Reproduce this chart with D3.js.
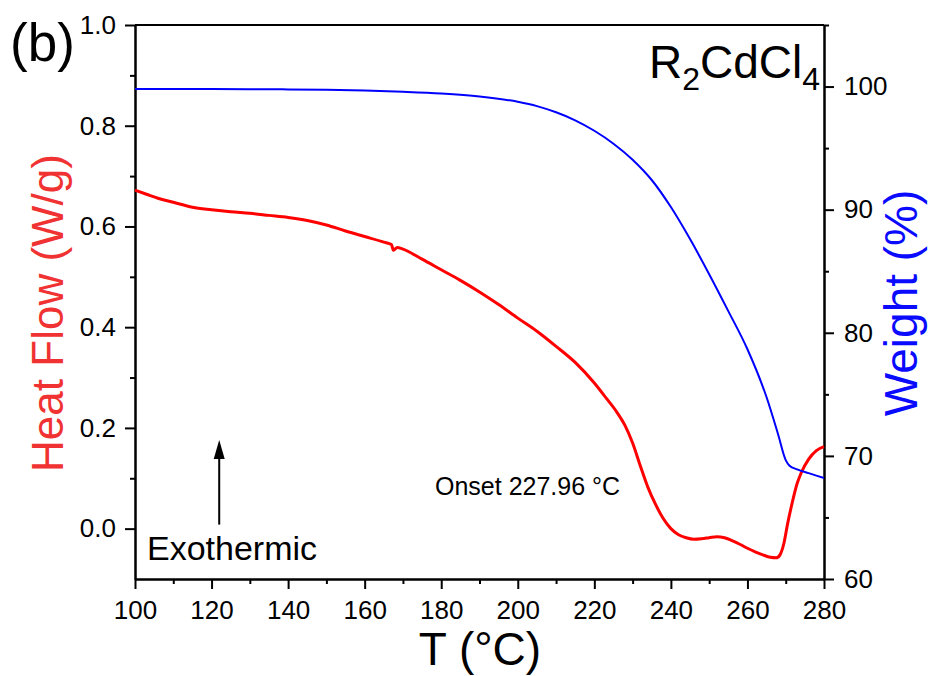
<!DOCTYPE html>
<html>
<head>
<meta charset="utf-8">
<script src="https://cdn.jsdelivr.net/npm/d3@7"></script>
<style>
  body { margin: 0; background: #fff; }
  svg { font-family: "Liberation Sans", Arial, sans-serif; }
  .axis path, .axis line { stroke: #000; stroke-width: 2; }
  .axis text { font-size: 26px; fill: #000; }
</style>
</head>
<body>
<svg id="chart" width="932" height="676"></svg>
<script>
// temperature (°C) and heat flow (W/g) of the DSC trace
const hfTemp = [100, 103, 106, 110, 115, 120, 125, 130, 135, 140, 145, 150, 155, 160, 165, 167,
  167.5, 168.5, 170, 175, 180, 185, 190, 195, 200, 205, 210, 215, 220, 223, 226, 228, 230, 232,
  234, 236, 238, 240, 242, 244, 246, 248, 250, 252, 254, 256, 258, 260, 262, 264, 266, 267.5,
  268.5, 269.5, 270.5, 271.5, 273, 274, 276, 278, 280];
const heatFlow = [0.672, 0.664, 0.656, 0.648, 0.638, 0.633, 0.629, 0.626, 0.622, 0.618, 0.612,
  0.603, 0.591, 0.580, 0.569, 0.564, 0.553, 0.558, 0.555, 0.535, 0.514, 0.493, 0.470, 0.445,
  0.418, 0.392, 0.362, 0.330, 0.289, 0.260, 0.230, 0.205, 0.170, 0.125, 0.082, 0.048, 0.020,
  0.000, -0.012, -0.018, -0.021, -0.020, -0.018, -0.016, -0.018, -0.024, -0.031, -0.039,
  -0.046, -0.052, -0.057, -0.058, -0.052, -0.030, 0.010, 0.045, 0.090, 0.110, 0.138, 0.155, 0.163];

// temperature (°C) and weight (%) of the TGA trace
const wTemp = [100, 110, 120, 130, 140, 150, 160, 170, 180, 190, 200, 205, 210, 215, 220, 225,
  230, 235, 240, 245, 250, 255, 260, 265, 268, 270, 271, 273, 276, 280];
const weight = [99.80, 99.80, 99.80, 99.79, 99.77, 99.74, 99.68, 99.58, 99.44, 99.20, 98.76,
  98.41, 97.91, 97.26, 96.41, 95.36, 94.06, 92.41, 90.21, 87.61, 84.76, 81.76, 78.66, 74.76,
  71.76, 69.66, 69.20, 68.90, 68.60, 68.20];

const xTicks = [100, 120, 140, 160, 180, 200, 220, 240, 260, 280];
const hfTicks = [0.0, 0.2, 0.4, 0.6, 0.8, 1.0];
const wTicks = [60, 70, 80, 90, 100];

const svg = d3.select("#chart");
const plotLeft = 135, plotRight = 824, plotTop = 25, plotBottom = 579;

const x = d3.scaleLinear().domain([100, 280]).range([plotLeft, plotRight]);
const yHF = d3.scaleLinear().domain([-0.1, 1.0]).range([plotBottom, plotTop]);
const yW = d3.scaleLinear().domain([60, 105]).range([plotBottom, plotTop]);

// top frame line
svg.append("line")
  .attr("x1", plotLeft).attr("x2", plotRight).attr("y1", plotTop).attr("y2", plotTop)
  .attr("stroke", "#000").attr("stroke-width", 2);

// minor ticks
svg.append("g").attr("class", "axis").attr("transform", `translate(0,${plotBottom})`)
  .call(d3.axisBottom(x).tickValues(d3.range(110, 280, 20)).tickSize(5).tickSizeOuter(0).tickFormat(""));
svg.append("g").attr("class", "axis").attr("transform", `translate(${plotLeft},0)`)
  .call(d3.axisLeft(yHF).tickValues([0.1, 0.3, 0.5, 0.7, 0.9]).tickSize(5).tickSizeOuter(0).tickFormat(""));
svg.append("g").attr("class", "axis").attr("transform", `translate(${plotRight},0)`)
  .call(d3.axisRight(yW).tickValues([65, 75, 85, 95, 105]).tickSize(5).tickSizeOuter(0).tickFormat(""));

// major axes
svg.append("g").attr("class", "axis").attr("transform", `translate(0,${plotBottom})`)
  .call(d3.axisBottom(x).tickValues(xTicks).tickSize(10).tickSizeOuter(0).tickPadding(12).tickFormat(d3.format("d")));
svg.append("g").attr("class", "axis").attr("transform", `translate(${plotLeft},0)`)
  .call(d3.axisLeft(yHF).tickValues(hfTicks).tickSize(10).tickSizeOuter(0).tickPadding(9).tickFormat(d3.format(".1f")));
svg.append("g").attr("class", "axis").attr("transform", `translate(${plotRight},0)`)
  .call(d3.axisRight(yW).tickValues(wTicks).tickSize(10).tickSizeOuter(0).tickPadding(10).tickFormat(d3.format("d")));

// curves
const hfLine = d3.line().x((d, i) => x(hfTemp[i])).y(d => yHF(d)).curve(d3.curveMonotoneX);
svg.append("path").datum(heatFlow).attr("d", hfLine)
  .attr("fill", "none").attr("stroke", "#ff0000").attr("stroke-width", 3);

const wLine = d3.line().x((d, i) => x(wTemp[i])).y(d => yW(d)).curve(d3.curveMonotoneX);
svg.append("path").datum(weight).attr("d", wLine)
  .attr("fill", "none").attr("stroke", "#0000ff").attr("stroke-width", 2);

// axis titles
svg.append("text").attr("x", (plotLeft + plotRight) / 2 + 0.5).attr("y", 665)
  .attr("text-anchor", "middle").style("font-size", "46px").text("T (°C)");
svg.append("text").attr("transform", "translate(63,313) rotate(-90)")
  .attr("text-anchor", "middle").style("font-size", "44px").attr("fill", "#f03232")
  .text("Heat Flow (W/g)");
svg.append("text").attr("transform", "translate(917,303) rotate(-90)")
  .attr("text-anchor", "middle").style("font-size", "46px").attr("fill", "#0a0aff")
  .text("Weight (%)");

// panel label and compound name
svg.append("text").attr("x", 10).attr("y", 61).style("font-size", "53px").text("(b)");
const comp = svg.append("text").attr("x", 820).attr("y", 78).attr("text-anchor", "end")
  .style("font-size", "46px");
comp.append("tspan").text("R");
comp.append("tspan").attr("dy", 12).style("font-size", "32px").text("2");
comp.append("tspan").attr("dy", -12).text("CdCl");
comp.append("tspan").attr("dy", 12).style("font-size", "32px").text("4");

// annotations
svg.append("text").attr("x", 435).attr("y", 495).style("font-size", "25px").text("Onset 227.96 °C");
svg.append("text").attr("x", 147).attr("y", 560).style("font-size", "34px").text("Exothermic");

const ax = x(122);
svg.append("line").attr("x1", ax).attr("x2", ax).attr("y1", yHF(0.008)).attr("y2", 455)
  .attr("stroke", "#000").attr("stroke-width", 2);
svg.append("path")
  .attr("d", `M${ax},440 L${ax - 5.5},459 L${ax + 5.5},459 Z`)
  .attr("fill", "#000");
</script>
</body>
</html>
